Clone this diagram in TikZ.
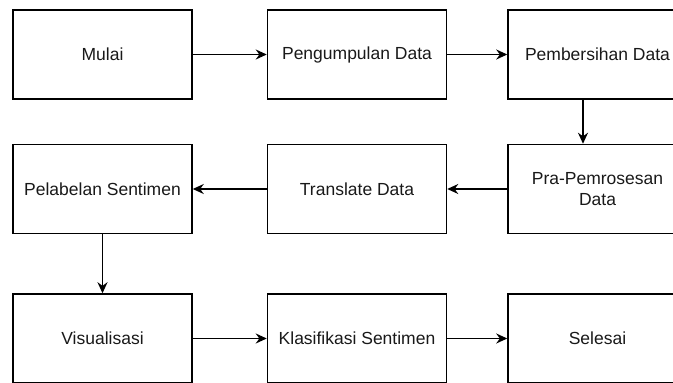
\documentclass[tikz,border=0pt]{standalone}
\usepackage{fontspec}
\setmainfont{Liberation Sans}
\usetikzlibrary{arrows.meta,positioning}

\begin{document}
\begin{tikzpicture}[x=1pt,y=1pt,font=\fontsize{17.5}{21}\selectfont,
 n/.style={draw,line width=1.5pt,align=center,minimum width=179pt,minimum height=89pt,inner sep=2pt,text=black!90},
 line/.style={-{Stealth[length=11pt,width=10pt]},line width=1.5pt}]
\useasboundingbox (0,0) rectangle (673,-383);
\node[n] (mulai) at (102.5,-54.5) {Mulai};
\node[n,right=74pt of mulai] (kumpul) {Pengumpulan Data};
\node[n,right=60pt of kumpul] (bersih) {Pembersihan Data};
\node[n,below=44pt of bersih] (pra) {Pra-Pemrosesan\\Data};
\node[n,below=44pt of kumpul] (translate) {Translate Data};
\node[n,below=44pt of mulai] (label) {Pelabelan Sentimen};
\node[n,below=59pt of label] (visual) {Visualisasi};
\node[n,below=59pt of translate] (klasif) {Klasifikasi Sentimen};
\node[n,below=59pt of pra] (selesai) {Selesai};
\draw[line] (mulai)--(kumpul);\draw[line] (kumpul)--(bersih);
\draw[line] ([xshift=-14.5pt]bersih.south)--([xshift=-14.5pt]pra.north);
\draw[line] (pra)--(translate);\draw[line] (translate)--(label);
\draw[line] (label)--(visual);
\draw[line] (visual)--(klasif);\draw[line] (klasif)--(selesai);
\end{tikzpicture}
\end{document}
